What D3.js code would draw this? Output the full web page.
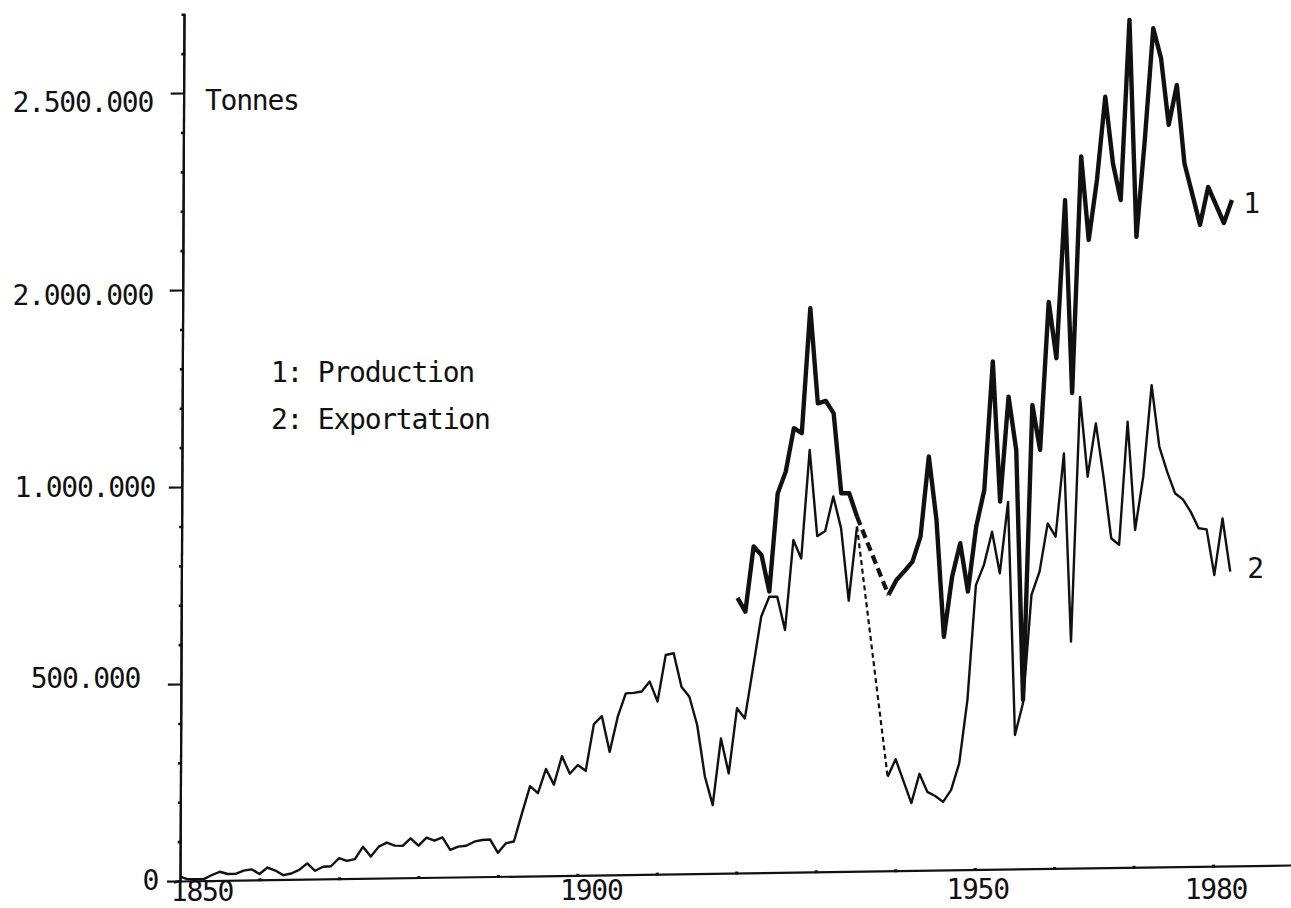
<!DOCTYPE html>
<html>
<head>
<meta charset="utf-8">
<script src="https://cdn.jsdelivr.net/npm/d3@7"></script>
<style>
  html, body { margin: 0; padding: 0; background: #fff; }
  svg { display: block; }
  text {
    font-family: "DejaVu Sans Mono", "Liberation Mono", monospace;
    font-size: 28px;
    letter-spacing: -1.25px;
    fill: #111;
  }
</style>
</head>
<body>
<svg id="chart" width="1291" height="908"></svg>
<script>
// ---- data (tonnes) ----
const productionYears = d3.range(1920, 1983);
const production = [
  698000, 663000, 828000, 806000, 713000, 962000, 1017000, 1127000, 1114000, 1431000,
  1189000, 1195000, 1163000, 960000, 960000, 900000, null, null, null, 700000,
  738000, 760000, 784000, 847000, 1050000, 889000, 592000, 744000, 829000, 706000,
  870000, 963000, 1289000, 933000, 1199000, 1063000, 429000, 1177000, 1063000, 1438000,
  1295000, 1696000, 1206000, 1806000, 1594000, 1746000, 1957000, 1788000, 1694000, 2151000,
  1600000, 1846000, 2129000, 2052000, 1883000, 1984000, 1785000, 1707000, 1628000, 1724000,
  1678000, 1632000, 1690000
];

const exportYears = d3.range(1850, 1983);
const exportation = [
  11000, 4000, 4000, 4000, 14000, 22000, 16000, 16000, 24000, 27000,
  15000, 31000, 23000, 11000, 15000, 24000, 40000, 21000, 31000, 32000,
  52000, 45000, 49000, 80000, 55000, 80000, 90000, 82000, 81000, 100000,
  81000, 101000, 93000, 101000, 69000, 77000, 79000, 89000, 93000, 94000,
  60000, 84000, 88000, 159000, 228000, 210000, 271000, 231000, 303000, 258000,
  280000, 265000, 383000, 403000, 312000, 401000, 460000, 461000, 464000, 489000,
  438000, 556000, 560000, 475000, 449000, 377000, 246000, 173000, 342000, 253000,
  418000, 392000, 520000, 650000, 700000, 700000, 615000, 843000, 796000, 1071000,
  852000, 865000, 952000, 871000, 687000, 875000, null, null, null, 239000,
  283000, 227000, 171000, 245000, 199000, 188000, 173000, 203000, 270000, 431000,
  722000, 773000, 857000, 751000, 932000, 340000, 421000, 695000, 754000, 876000,
  842000, 1053000, 575000, 1196000, 993000, 1128000, 992000, 836000, 819000, 1131000,
  856000, 991000, 1223000, 1067000, 1003000, 948000, 932000, 900000, 858000, 855000,
  739000, 882000, 747000
];

const yTickValues = [0, 500000, 1000000, 1500000, 2000000];
const yTickLabels = ["0", "500.000", "1.000.000", "2.000.000", "2.500.000"];
const yMinorTicks = d3.range(100000, 2200001, 100000);
const xTickYears = d3.range(1860, 1991, 10);
const xLabelYears = [1850, 1900, 1950, 1980];
const unitLabel = "Tonnes";
const legendItems = ["1: Production", "2: Exportation"];
const seriesTags = ["1", "2"];

// ---- layout ----
const originX = 180, originY = 881;
const pxPerYear = 7.946;
const pxPerTonne = 0.000394;

const svg = d3.select("#chart");

const x = d3.scaleLinear()
  .domain([1850, 1990])
  .range([0, 140 * pxPerYear]);
const y = d3.scaleLinear()
  .domain([0, 2200000])
  .range([0, -2200000 * pxPerTonne]);

// the plotting frame leans slightly: baseline rises to the right
const shearY = -0.0144, shearX = -0.0046;
const plot = svg.append("g")
  .attr("transform", `matrix(1, ${shearY}, ${shearX}, 1, ${originX}, ${originY})`);

// axes
const yAxis = d3.axisLeft(y).tickValues(yTickValues).tickFormat("")
  .tickSizeInner(13).tickSizeOuter(0);
const yMinor = d3.axisLeft(y).tickValues(yMinorTicks.filter(v => !yTickValues.includes(v)))
  .tickFormat("").tickSizeInner(2.5).tickSizeOuter(0);
const xAxis = d3.axisBottom(x).tickValues(xTickYears).tickFormat("")
  .tickSizeInner(1.5).tickSizeOuter(0);

function styleAxis(g, w) {
  g.selectAll("path.domain").attr("stroke", "#111").attr("stroke-width", w);
  g.selectAll(".tick line").attr("stroke", "#111").attr("stroke-width", 2.2);
}
plot.append("g").call(yMinor).call(g => styleAxis(g, 2.2))
  .selectAll(".tick line").attr("x1", 1.5).attr("stroke-width", 2.6);
plot.append("g").call(yAxis).call(g => styleAxis(g, 2.2));
plot.append("g").call(xAxis).call(g => styleAxis(g, 2.2))
  .selectAll(".tick line").attr("y1", -1.5).attr("stroke-width", 3);

// series
const prodData = productionYears.map((yr, i) => ({ yr, v: production[i] }));
const expData = exportYears.map((yr, i) => ({ yr, v: exportation[i] }));

const line = d3.line()
  .defined(d => d.v != null)
  .x(d => x(d.yr))
  .y(d => y(d.v));

// bridges across the years without figures
function bridge(data) {
  const idx = data.findIndex(d => d.v == null);
  const before = data[idx - 1];
  const after = data.slice(idx).find(d => d.v != null);
  return [before, after];
}

plot.append("path").datum(expData)
  .attr("d", line).attr("fill", "none").attr("stroke", "#111")
  .attr("stroke-width", 2.4).attr("stroke-linejoin", "round");
plot.append("path").datum(bridge(expData))
  .attr("d", line).attr("fill", "none").attr("stroke", "#111")
  .attr("stroke-width", 2.2).attr("stroke-dasharray", "5 3.5");

plot.append("path").datum(prodData)
  .attr("d", line).attr("fill", "none").attr("stroke", "#111")
  .attr("stroke-width", 4.4).attr("stroke-linejoin", "round");
plot.append("path").datum(bridge(prodData))
  .attr("d", line).attr("fill", "none").attr("stroke", "#111")
  .attr("stroke-width", 4.2).attr("stroke-dasharray", "9 5");

// y tick labels (hand-set offsets from each tick)
const yLabelShift = [[-22, 9], [-40, 4], [-25, 10], [-27, 15], [-27, 19]];
svg.append("g").selectAll("text").data(yTickValues).join("text")
  .attr("text-anchor", "end")
  .attr("x", (d, i) => originX + yLabelShift[i][0])
  .attr("y", (d, i) => originY + y(d) + yLabelShift[i][1])
  .text((d, i) => yTickLabels[i]);

// x labels
const xLabelShift = [[22, 20], [14, 19], [3, 18], [3, 18]];
svg.append("g").selectAll("text").data(xLabelYears).join("text")
  .attr("text-anchor", "middle")
  .attr("x", (d, i) => originX + x(d) + xLabelShift[i][0])
  .attr("y", (d, i) => originY + xLabelShift[i][1])
  .text(d => d);

// unit, legend, series tags
svg.append("text").attr("x", 205).attr("y", 110).text(unitLabel);
svg.append("g").selectAll("text").data(legendItems).join("text")
  .attr("x", 271).attr("y", (d, i) => 382 + i * 47)
  .text(d => d);
svg.append("text").attr("text-anchor", "middle").attr("x", 1251).attr("y", 213).text(seriesTags[0]);
svg.append("text").attr("text-anchor", "middle").attr("x", 1255).attr("y", 578).text(seriesTags[1]);
</script>
</body>
</html>
